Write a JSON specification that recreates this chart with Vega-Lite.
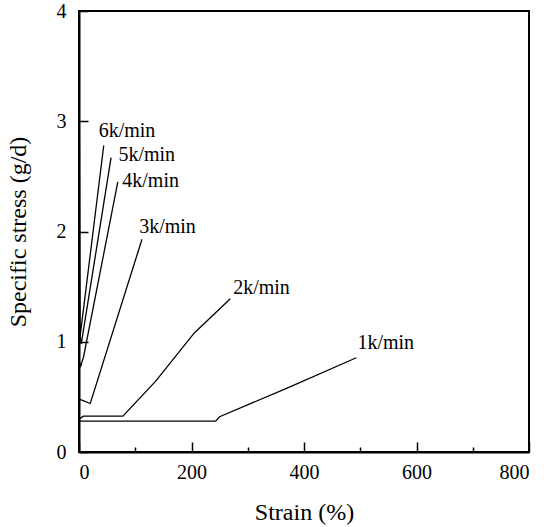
{
  "$schema": "https://vega.github.io/schema/vega-lite/v6.json",
  "autosize": "none",
  "width": 450,
  "height": 441,
  "padding": {"left": 79, "top": 11, "right": 23, "bottom": 75},
  "background": "white",
  "config": {
    "view": {"stroke": "black", "strokeWidth": 2},
    "font": "Times New Roman",
    "axis": {"grid": false, "domainColor": "black", "domainWidth": 2, "tickColor": "black", "tickWidth": 1.5,
             "labelColor": "black", "titleColor": "black", "labelFont": "Times New Roman", "titleFont": "Times New Roman",
             "labelFontSize": 20, "titleFontSize": 24, "titleFontWeight": "normal"}
  },
  "datasets": {
    "curves": [
      {"series": "1k/min", "o": 0, "x": 0, "y": 0},
      {"series": "1k/min", "o": 1, "x": 0.5, "y": 0.28},
      {"series": "1k/min", "o": 2, "x": 243, "y": 0.28},
      {"series": "1k/min", "o": 3, "x": 250, "y": 0.32},
      {"series": "1k/min", "o": 4, "x": 370, "y": 0.58},
      {"series": "1k/min", "o": 5, "x": 493, "y": 0.855},
      {"series": "2k/min", "o": 0, "x": 0, "y": 0},
      {"series": "2k/min", "o": 1, "x": 0.5, "y": 0.3},
      {"series": "2k/min", "o": 2, "x": 8, "y": 0.325},
      {"series": "2k/min", "o": 3, "x": 78, "y": 0.325},
      {"series": "2k/min", "o": 4, "x": 136, "y": 0.64},
      {"series": "2k/min", "o": 5, "x": 205, "y": 1.08},
      {"series": "2k/min", "o": 6, "x": 269, "y": 1.39},
      {"series": "3k/min", "o": 0, "x": 0, "y": 0},
      {"series": "3k/min", "o": 1, "x": 0.5, "y": 0.48},
      {"series": "3k/min", "o": 2, "x": 20, "y": 0.44},
      {"series": "3k/min", "o": 3, "x": 112, "y": 1.93},
      {"series": "4k/min", "o": 0, "x": 0, "y": 0},
      {"series": "4k/min", "o": 1, "x": 0.5, "y": 0.82},
      {"series": "4k/min", "o": 2, "x": 3, "y": 0.78},
      {"series": "4k/min", "o": 3, "x": 8, "y": 0.86},
      {"series": "4k/min", "o": 4, "x": 69, "y": 2.45},
      {"series": "5k/min", "o": 0, "x": 0, "y": 0},
      {"series": "5k/min", "o": 1, "x": 0.5, "y": 1.1},
      {"series": "5k/min", "o": 2, "x": 4, "y": 0.98},
      {"series": "5k/min", "o": 3, "x": 57, "y": 2.67},
      {"series": "6k/min", "o": 0, "x": 0, "y": 0},
      {"series": "6k/min", "o": 1, "x": 0.5, "y": 3.18},
      {"series": "6k/min", "o": 2, "x": 2, "y": 1.05},
      {"series": "6k/min", "o": 3, "x": 44, "y": 2.78}
    ],
    "labels": [
      {"label": "6k/min", "x": 35, "y": 2.91},
      {"label": "5k/min", "x": 70, "y": 2.69},
      {"label": "4k/min", "x": 77, "y": 2.46},
      {"label": "3k/min", "x": 107, "y": 2.04},
      {"label": "2k/min", "x": 274, "y": 1.49},
      {"label": "1k/min", "x": 495, "y": 0.99}
    ]
  },
  "layer": [
    {
      "data": {"name": "curves"},
      "mark": {"type": "line", "color": "black", "strokeWidth": 1.3, "clip": true},
      "encoding": {
        "x": {"field": "x", "type": "quantitative", "scale": {"domain": [0, 800], "nice": false},
              "axis": {"values": [0, 200, 400, 600, 800], "tickSize": -10, "labelPadding": 20, "title": "Strain (%)", "titlePadding": 18}},
        "y": {"field": "y", "type": "quantitative", "scale": {"domain": [0, 4], "nice": false},
              "axis": {"values": [0, 1, 2, 3, 4], "tickSize": -9, "labelPadding": 22, "title": "Specific stress (g/d)", "titlePadding": 26}},
        "detail": {"field": "series"},
        "order": {"field": "o"}
      }
    },
    {
      "data": {"name": "labels"},
      "mark": {"type": "text", "align": "left", "baseline": "middle", "font": "Times New Roman", "fontSize": 20, "color": "black"},
      "encoding": {
        "x": {"field": "x", "type": "quantitative", "scale": {"domain": [0, 800], "nice": false},
              "axis": {"orient": "bottom", "values": [100, 300, 500, 700], "tickSize": -5, "labels": false, "domain": false, "title": null}},
        "y": {"field": "y", "type": "quantitative", "scale": {"domain": [0, 4], "nice": false},
              "axis": null},
        "text": {"field": "label"}
      }
    }
  ],
  "resolve": {"axis": {"x": "independent", "y": "independent"}}
}
